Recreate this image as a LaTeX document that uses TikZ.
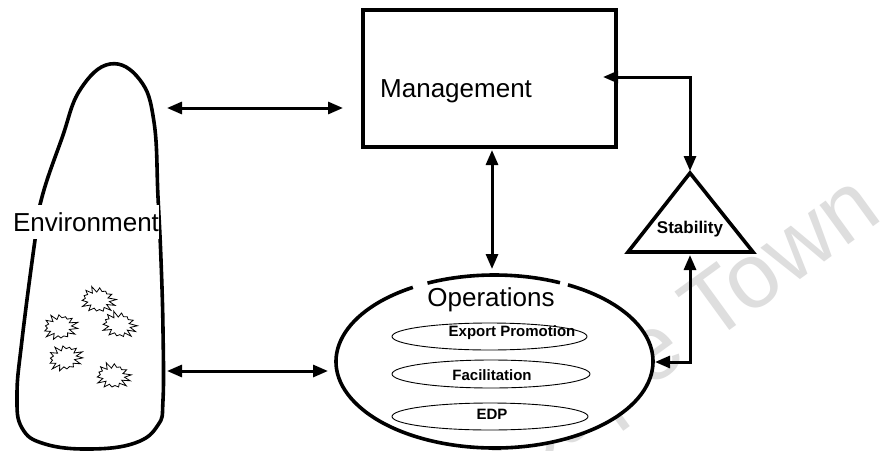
\documentclass[tikz,border=0pt]{standalone}
\usepackage{fontspec}
\setmainfont{Liberation Sans}
\usetikzlibrary{arrows.meta,shapes.geometric}
\begin{document}
\begin{tikzpicture}[x=1pt,y=-1pt,
  outline/.style={line width=3.6pt},
  conn/.style={line width=3pt, {Triangle[length=15pt,width=12pt]}-{Triangle[length=15pt,width=12pt]}},
  thinline/.style={line width=0.9pt},
  biglabel/.style={font=\fontsize{26}{30}\selectfont, inner sep=0pt},
  smalllabel/.style={font=\bfseries\fontsize{15}{18}\selectfont, inner sep=0pt},
  burst/.pic={\draw[line width=0.8pt, line join=miter]
     plot[domain=0:27, samples=28] ({\x*360/28}:{(1+0.45*mod(round(\x),2))*(1+0.12*sin(\x*137))}) -- cycle;}
]
\useasboundingbox (0,0) rectangle (883,450);
\fill[white] (0,0) rectangle (883,450);
\clip (0,0) rectangle (883,450);

% watermark
\node[rotate=36, anchor=base west, text=black!13, font=\fontsize{92}{100}\selectfont, inner sep=0pt] (wm) at (512,489) {Cape Town};

% Environment
\draw[outline] plot[smooth cycle, tension=0.7] coordinates {
 (110,64) (140,80) (154,122) (158,197) (161,260) (163,330) (163,400) (158,425)
 (135,443) (90,449) (45,444) (22,428) (17,395) (22,340) (35,240) (42,197) (62,138) (80,90)};
\node[biglabel, fill=white, inner ysep=7pt] (envlabel) at (86,222) {Environment};
\pic[rotate=-8, xscale=11.5, yscale=8.5] at (98,300) {burst};
\pic[rotate=5, xscale=11.5, yscale=8.5] at (60,327) {burst};
\pic[rotate=-12, xscale=11.5, yscale=8.5] at (119,325) {burst};
\pic[rotate=10, xscale=11.5, yscale=8.5] at (65,358) {burst};
\pic[rotate=-6, xscale=11.5, yscale=8.5] at (113,376) {burst};

% Management
\node[draw, outline, minimum width=253pt, minimum height=137pt, inner sep=0pt] (mgmt) at (489.5,78.5) {};
\node[biglabel, anchor=west] (mgmtlabel) at (380,91) {Management};

% Operations
\node[ellipse, fill=white, minimum width=317pt, minimum height=173pt, inner sep=0pt] (ops) at (494.5,361.5) {};
\draw[outline] ([shift={(121:158.5pt and 86.5pt)}]ops.center) arc[start angle=121, end angle=422.4, x radius=158.5pt, y radius=86.5pt];
\draw[outline] ([shift={(65.6:158.5pt and 86.5pt)}]ops.center) arc[start angle=65.6, end angle=115, x radius=158.5pt, y radius=86.5pt];
\node[biglabel] (opslabel) at (491,300) {Operations};
\node[draw, thinline, ellipse, minimum width=195pt, minimum height=27pt, inner sep=0pt] (ep) at (489.5,336.5) {};
\node[smalllabel] (eplabel) at (512,333) {Export Promotion};
\node[draw, thinline, ellipse, minimum width=198pt, minimum height=28pt, inner sep=0pt] (fac) at (491,374) {};
\node[smalllabel] (faclabel) at (492,375) {Facilitation};
\node[draw, thinline, ellipse, minimum width=196pt, minimum height=27pt, inner sep=0pt] (edp) at (490,416.5) {};
\node[smalllabel] (edplabel) at (492,414) {EDP};

% Stability
\coordinate (stA) at (690,173);
\coordinate (stL) at (628,252);
\coordinate (stR) at (753,252);
\draw[outline, line join=miter] (stA) -- (stR) -- (stL) -- cycle;
\node[font=\bfseries\fontsize{17}{20}\selectfont, inner sep=0pt] (stab) at (690,229) {Stability};

% connectors
\coordinate (e1) at (167,108);
\coordinate (m1) at (343,108);
\draw[conn] (e1) -- (m1);
\coordinate (e2) at (167,371);
\coordinate (o1) at (328,371);
\draw[conn] (e2) -- (o1);
\coordinate (m2) at (492,150);
\coordinate (o2) at (492,269);
\draw[conn] (m2) -- (o2);
\coordinate (m3) at (603,77);
\coordinate (k1) at (690,77);
\coordinate (s1) at (690,171);
\draw[conn] (m3) -- (k1) -- (s1);
\coordinate (s2) at (690,255);
\coordinate (k2) at (690,362);
\coordinate (o3) at (655,362);
\draw[conn] (s2) -- (k2) -- (o3);
\end{tikzpicture}
\end{document}
